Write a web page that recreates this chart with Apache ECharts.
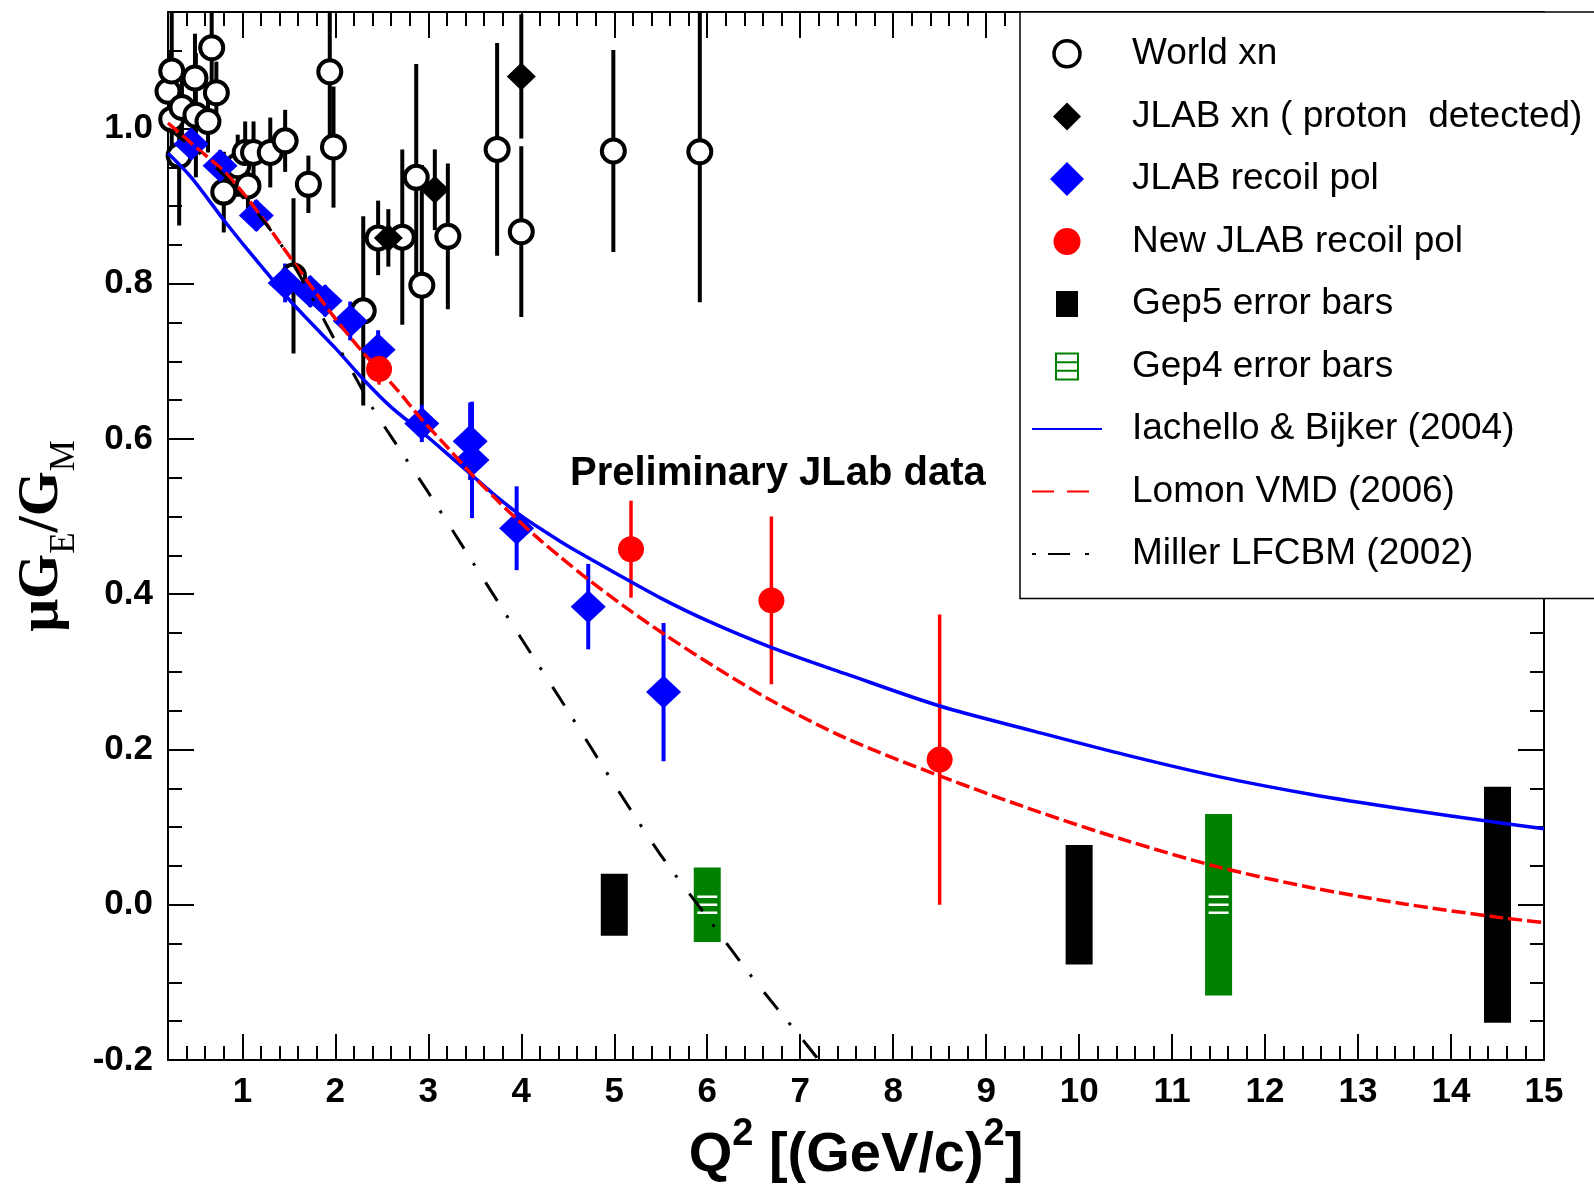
<!DOCTYPE html>
<html>
<head>
<meta charset="utf-8">
<title>muGE/GM vs Q2</title>
<script src="https://cdn.jsdelivr.net/npm/echarts@6.0.0/dist/echarts.min.js"></script>
<style>
html, body { margin: 0; padding: 0; background: #fff; }
#main { width: 1594px; height: 1186px; }
</style>
</head>
<body>
<div id="main"></div>
<script>
var SANS = '"Liberation Sans", Arial, Helvetica, sans-serif';
var SERIF = '"Liberation Serif", "Times New Roman", serif';

// World xn (open circles)
var worldQ   = [0.20, 0.24, 0.24, 0.32, 0.35, 0.49, 0.50, 0.63, 0.67, 0.72, 0.80, 0.95, 1.03, 1.06, 1.12, 1.30, 1.46, 1.55, 1.71, 1.94, 1.98, 2.30, 2.46, 2.72, 2.87, 2.93, 3.21, 3.74, 4.00, 4.99, 5.92];
var worldR   = [1.048, 1.074, 1.012, 0.965, 1.027, 1.065, 1.017, 1.009, 1.104, 1.046, 0.918, 0.952, 0.969, 0.926, 0.969, 0.969, 0.984, 0.810, 0.928, 1.073, 0.976, 0.765, 0.859, 0.860, 0.937, 0.798, 0.861, 0.973, 0.867, 0.971, 0.970];
var worldErr = [0.05, 0.08, 0.06, 0.09, 0.05, 0.057, 0.08, 0.04, 0.07, 0.04, 0.052, 0.04, 0.04, 0.04, 0.04, 0.045, 0.04, 0.10, 0.037, 0.09, 0.078, 0.122, 0.048, 0.113, 0.146, 0.155, 0.094, 0.137, 0.11, 0.13, 0.194];

// JLAB xn, proton detected (black diamonds)
var jxnQ   = [2.57, 3.07, 4.00];
var jxnR   = [0.859, 0.921, 1.067];
var jxnErr = [0.037, 0.052, 0.08];

// JLAB recoil pol (blue diamonds)
var recoilQ   = [0.45, 0.76, 1.15, 1.46, 1.73, 1.89, 2.16, 2.46, 2.93, 3.45, 3.47, 3.95, 4.72, 5.53];
var recoilR   = [0.980, 0.952, 0.888, 0.801, 0.790, 0.778, 0.752, 0.715, 0.620, 0.597, 0.573, 0.485, 0.384, 0.274];
var recoilErr = [0.02, 0.02, 0.02, 0.025, 0.02, 0.02, 0.025, 0.025, 0.024, 0.05, 0.075, 0.054, 0.055, 0.089];

// New JLAB recoil pol (red circles)
var newQ   = [2.47, 5.18, 6.69, 8.50];
var newR   = [0.690, 0.458, 0.392, 0.187];
var newErr = [0.02, 0.0625, 0.108, 0.187];

// projected error bars, centred on zero
var gep5Q   = [5.0, 10.0, 14.5];
var gep5Err = [0.040, 0.077, 0.152];
var gep4Q   = [6.0, 11.5];
var gep4Err = [0.048, 0.117];

// model curves
var ibQ = [0.2, 0.45, 0.8, 1.0, 1.25, 1.5, 1.75, 2.0, 2.3, 2.6, 2.95, 3.25, 3.5, 3.75, 4.0, 4.25, 4.5, 5.0, 5.5, 6.0, 6.7, 7.5, 8.5, 9.5, 10.5, 11.5, 12.5, 13.5, 14.5, 15.0];
var ibR = [0.968, 0.937, 0.882, 0.852, 0.816, 0.780, 0.748, 0.717, 0.677, 0.641, 0.607, 0.576, 0.550, 0.524, 0.501, 0.481, 0.462, 0.428, 0.395, 0.366, 0.331, 0.297, 0.256, 0.224, 0.193, 0.165, 0.142, 0.123, 0.106, 0.098];

var lomonQ = [0.2, 0.45, 0.8, 1.0, 1.2, 1.4, 1.7, 2.0, 2.3, 2.66, 2.93, 3.2, 3.47, 3.75, 3.95, 4.2, 4.42, 4.72, 5.1, 5.53, 6.1, 6.69, 7.5, 8.5, 9.58, 10.5, 11.5, 12.5, 13.5, 14.5, 15.0];
var lomonR = [1.007, 0.981, 0.945, 0.918, 0.887, 0.853, 0.803, 0.755, 0.711, 0.664, 0.625, 0.590, 0.554, 0.520, 0.497, 0.470, 0.448, 0.419, 0.385, 0.349, 0.305, 0.263, 0.214, 0.166, 0.119, 0.083, 0.0485, 0.022, 0.001, -0.016, -0.023];

var millerQ = [0.2, 0.5, 0.8, 1.0, 1.2, 1.4, 1.6, 1.8, 2.0, 2.2, 2.4, 2.6, 2.8, 3.0, 3.5, 4.0, 4.5, 5.0, 5.5, 6.0, 6.5, 7.0, 7.2];
var millerR = [1.000, 0.972, 0.940, 0.912, 0.885, 0.853, 0.814, 0.771, 0.726, 0.683, 0.640, 0.603, 0.567, 0.531, 0.437, 0.343, 0.250, 0.155, 0.064, -0.016, -0.096, -0.170, -0.200];

// tick labels
var xTicks = [1, 2, 3, 4, 5, 6, 7, 8, 9, 10, 11, 12, 13, 14, 15];
var yTicks = [-0.2, 0.0, 0.2, 0.4, 0.6, 0.8, 1.0];

function pairs(a, b) { return a.map(function (v, i) { return [v, b[i]]; }); }
function triples(a, b, c) { return a.map(function (v, i) { return [v, b[i], c[i]]; }); }

function errBar(color, width) {
    return function (params, api) {
        var q = api.value(0), r = api.value(1), e = api.value(2);
        var lo = api.coord([q, r - e]);
        var hi = api.coord([q, r + e]);
        return {
            type: 'line',
            shape: { x1: lo[0], y1: lo[1], x2: hi[0], y2: hi[1] },
            style: { stroke: color, lineWidth: width }
        };
    };
}

function gepBox(color, stripes) {
    return function (params, api) {
        var q = api.value(0), e = api.value(1);
        var top = api.coord([q, e]), bot = api.coord([q, -e]), mid = api.coord([q, 0]);
        var kids = [{
            type: 'rect',
            shape: { x: top[0] - 13.5, y: top[1], width: 27, height: bot[1] - top[1] },
            style: { fill: color }
        }];
        if (stripes) {
            [-8, 0, 8].forEach(function (d) {
                kids.push({
                    type: 'line',
                    shape: { x1: mid[0] - 10, y1: mid[1] + d, x2: mid[0] + 10, y2: mid[1] + d },
                    style: { stroke: '#fff', lineWidth: 2.5 }
                });
            });
        }
        return { type: 'group', children: kids };
    };
}

var axisLine = { show: true, onZero: false, lineStyle: { color: '#000', width: 2 } };
var noLine = { show: false, onZero: false };
var tickStyle = { color: '#000', width: 2 };
var gridBox = { left: 168, top: 12, right: 50, bottom: 126, containLabel: false, outerBoundsMode: 'none' };
var noSymbol = { color: 'rgba(0,0,0,0)', borderWidth: 0, opacity: 0 };

// legend glyphs drawn in a 34x34 frame so they keep their relative sizes
var FRAME = 'path://M0,0M34,34';
var iconWorld  = FRAME + 'M4,17A13,13,0,1,1,30,17A13,13,0,1,1,4,17Z';
var iconJxn    = FRAME + 'M17,3L31,17L17,31L3,17Z';
var iconRecoil = FRAME + 'M17,0L34,17L17,34L0,17Z';
var iconNew    = FRAME + 'M3.5,17A13.5,13.5,0,1,1,30.5,17A13.5,13.5,0,1,1,3.5,17Z';
var iconGep5   = FRAME + 'M6,4H28V30H6Z';
var iconGep4   = FRAME + 'M6,4H28V30H6ZM6,12.7H28M6,21.3H28';

var chart = echarts.init(document.getElementById('main'));

var option = {
    animation: false,
    backgroundColor: '#fff',
    grid: [gridBox, gridBox],
    xAxis: [
        {
            gridIndex: 0, type: 'value', position: 'bottom', min: 0.2, max: 15,
            axisLine: axisLine,
            axisTick: { show: true, inside: true, length: 26, lineStyle: tickStyle, customValues: xTicks },
            axisLabel: {
                show: true, customValues: xTicks, margin: 15,
                fontSize: 35, fontWeight: 'bold', fontFamily: SANS, color: '#000'
            },
            splitLine: { show: false },
            name: '{m|Q}{s|2}{m| [(GeV/c)}{s|2}{m|]}',
            nameLocation: 'middle', nameGap: 56, nameMoveOverlap: false,
            nameTextStyle: {
                rich: {
                    m: { fontSize: 56, fontWeight: 'bold', fontFamily: SANS, color: '#000', lineHeight: 80 },
                    s: { fontSize: 38, fontWeight: 'bold', fontFamily: SANS, color: '#000', lineHeight: 38, verticalAlign: 'top' }
                }
            }
        },
        {
            gridIndex: 0, type: 'value', position: 'top', min: 0.2, max: 15,
            axisLine: axisLine,
            axisTick: { show: true, inside: true, length: 26, lineStyle: tickStyle, customValues: xTicks },
            axisLabel: { show: false },
            splitLine: { show: false }
        },
        {
            gridIndex: 1, type: 'value', position: 'bottom', min: 0.2, max: 15, interval: 0.2,
            axisLine: noLine,
            axisTick: { show: true, inside: true, length: 14, lineStyle: tickStyle },
            axisLabel: { show: false },
            splitLine: { show: false }
        },
        {
            gridIndex: 1, type: 'value', position: 'top', min: 0.2, max: 15, interval: 0.2,
            axisLine: noLine,
            axisTick: { show: true, inside: true, length: 14, lineStyle: tickStyle },
            axisLabel: { show: false },
            splitLine: { show: false }
        }
    ],
    yAxis: [
        {
            gridIndex: 0, type: 'value', position: 'left', min: -0.2, max: 1.15,
            axisLine: axisLine,
            axisTick: { show: true, inside: true, length: 26, lineStyle: tickStyle, customValues: yTicks },
            axisLabel: {
                show: true, customValues: yTicks, margin: 15,
                fontSize: 35, fontWeight: 'bold', fontFamily: SANS, color: '#000',
                formatter: function (v) { return v.toFixed(1); }
            },
            splitLine: { show: false },
            name: '{m|\u03bcG}{s|E}{m|/G}{s|M}',
            nameLocation: 'middle', nameRotate: 90, nameGap: 86, nameMoveOverlap: false,
            nameTextStyle: {
                rich: {
                    m: { fontSize: 58, fontWeight: 'bold', fontFamily: SERIF, color: '#000', lineHeight: 80 },
                    s: { fontSize: 35, fontFamily: SERIF, color: '#000', lineHeight: 35, verticalAlign: 'bottom' }
                }
            }
        },
        {
            gridIndex: 0, type: 'value', position: 'right', min: -0.2, max: 1.15,
            axisLine: axisLine,
            axisTick: { show: true, inside: true, length: 26, lineStyle: tickStyle, customValues: yTicks },
            axisLabel: { show: false },
            splitLine: { show: false }
        },
        {
            gridIndex: 1, type: 'value', position: 'left', min: -0.2, max: 1.15, interval: 0.05,
            axisLine: noLine,
            axisTick: { show: true, inside: true, length: 14, lineStyle: tickStyle },
            axisLabel: { show: false },
            splitLine: { show: false }
        },
        {
            gridIndex: 1, type: 'value', position: 'right', min: -0.2, max: 1.15, interval: 0.05,
            axisLine: noLine,
            axisTick: { show: true, inside: true, length: 14, lineStyle: tickStyle },
            axisLabel: { show: false },
            splitLine: { show: false }
        }
    ],
    legend: {
        orient: 'vertical', left: 1020, top: 12,
        itemWidth: 70, itemHeight: 34, itemGap: 25.5,
        padding: [23, 40, 26, 11],
        backgroundColor: '#fff', borderColor: '#000', borderWidth: 1.5, borderRadius: 0,
        selectedMode: false,
        textStyle: { fontSize: 37, fontFamily: SANS, color: '#000', padding: [0, 0, 0, 25] },
        data: [
            { name: 'World xn', icon: iconWorld, itemStyle: { color: '#fff', borderColor: '#000', borderWidth: 3.5 } },
            { name: 'JLAB xn ( proton  detected)', icon: iconJxn },
            { name: 'JLAB recoil pol', icon: iconRecoil },
            { name: 'New JLAB recoil pol', icon: iconNew },
            { name: 'Gep5 error bars', icon: iconGep5 },
            { name: 'Gep4 error bars', icon: iconGep4,
              itemStyle: { color: '#fff', borderColor: '#008000', borderWidth: 2 } },
            { name: 'Iachello & Bijker (2004)', itemStyle: noSymbol },
            { name: 'Lomon VMD (2006)', itemStyle: noSymbol, lineStyle: { type: [22, 13] } },
            { name: 'Miller LFCBM (2002)', itemStyle: noSymbol, lineStyle: { type: [4, 12, 22, 15, 4, 40] } }
        ]
    },
    graphic: [{
        type: 'text', x: 570, y: 474, z: 10,
        style: {
            text: 'Preliminary JLab data', fill: '#000',
            fontSize: 40, fontWeight: 'bold', fontFamily: SANS, verticalAlign: 'middle'
        }
    }],
    series: [
        {
            name: 'World xn err', type: 'custom', clip: true, silent: true,
            renderItem: errBar('#000', 4), itemStyle: { color: '#000' },
            data: triples(worldQ, worldR, worldErr)
        },
        {
            name: 'JLAB xn err', type: 'custom', clip: true, silent: true,
            renderItem: errBar('#000', 4), itemStyle: { color: '#000' },
            data: triples(jxnQ, jxnR, jxnErr)
        },
        {
            name: 'World xn', type: 'scatter', symbol: 'circle', symbolSize: 23, silent: true,
            itemStyle: { color: '#fff', borderColor: '#000', borderWidth: 4, opacity: 1 },
            data: pairs(worldQ, worldR)
        },
        {
            name: 'JLAB xn ( proton  detected)', type: 'scatter', symbol: 'diamond', symbolSize: [29, 28], silent: true,
            itemStyle: { color: '#000', opacity: 1 },
            data: pairs(jxnQ, jxnR)
        },
        {
            name: 'Gep5 error bars', type: 'custom', clip: true, silent: true,
            renderItem: gepBox('#000', false), itemStyle: { color: '#000' },
            data: pairs(gep5Q, gep5Err)
        },
        {
            name: 'Gep4 error bars', type: 'custom', clip: true, silent: true,
            renderItem: gepBox('#008000', true), itemStyle: { color: '#008000' },
            data: pairs(gep4Q, gep4Err)
        },
        {
            name: 'JLAB recoil pol err', type: 'custom', clip: true, silent: true,
            renderItem: errBar('#0000ff', 4), itemStyle: { color: '#0000ff' },
            data: triples(recoilQ, recoilR, recoilErr)
        },
        {
            name: 'JLAB recoil pol', type: 'scatter', symbol: 'diamond', symbolSize: [35, 33], silent: true,
            itemStyle: { color: '#0000ff', opacity: 1 },
            data: pairs(recoilQ, recoilR)
        },
        {
            name: 'New JLAB recoil pol err', type: 'custom', clip: true, silent: true,
            renderItem: errBar('#ff0000', 3.5), itemStyle: { color: '#ff0000' },
            data: triples(newQ, newR, newErr)
        },
        {
            name: 'New JLAB recoil pol', type: 'scatter', symbol: 'circle', symbolSize: 26, silent: true,
            itemStyle: { color: '#ff0000', opacity: 1 },
            data: pairs(newQ, newR)
        },
        {
            name: 'Iachello & Bijker (2004)', type: 'line', symbol: 'none', showSymbol: false,
            smooth: 0.3, silent: true, clip: true,
            lineStyle: { color: '#0000ff', width: 3.5, type: 'solid' },
            itemStyle: { color: '#0000ff' },
            data: pairs(ibQ, ibR)
        },
        {
            name: 'Lomon VMD (2006)', type: 'line', symbol: 'none', showSymbol: false,
            smooth: 0.3, silent: true, clip: true,
            lineStyle: { color: '#ff0000', width: 3.5, type: [14, 5], cap: 'butt' },
            itemStyle: { color: '#ff0000' },
            data: pairs(lomonQ, lomonR)
        },
        {
            name: 'Miller LFCBM (2002)', type: 'line', symbol: 'none', showSymbol: false,
            smooth: 0.3, silent: true, clip: true,
            lineStyle: { color: '#000', width: 3, type: [22, 17, 3, 20], cap: 'butt' },
            itemStyle: { color: '#000' },
            data: pairs(millerQ, millerR)
        }
    ]
};

chart.setOption(option);
</script>
</body>
</html>
